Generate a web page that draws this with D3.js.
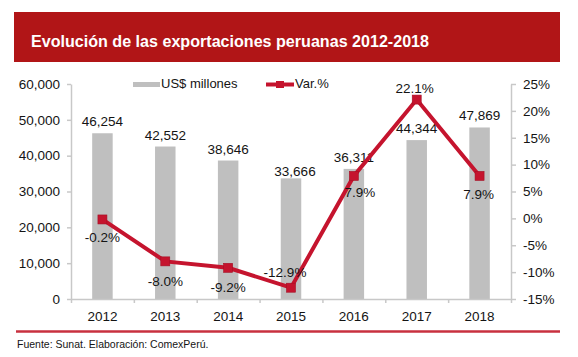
<!DOCTYPE html>
<html>
<head>
<meta charset="utf-8">
<script src="https://cdn.jsdelivr.net/npm/d3@7"></script>
<style>
  html, body { margin: 0; padding: 0; background: #fff; }
  svg { display: block; font-family: "Liberation Sans", Arial, sans-serif; }
</style>
</head>
<body>
<svg id="chart" width="578" height="357"></svg>
<script>
const years = ["2012", "2013", "2014", "2015", "2016", "2017", "2018"];
const exports = [46254, 42552, 38646, 33666, 36311, 44344, 47869];
const variation = [-0.2, -8.0, -9.2, -12.9, 7.9, 22.1, 7.9];
const leftTicks = [0, 10000, 20000, 30000, 40000, 50000, 60000];
const rightTicks = [-15, -10, -5, 0, 5, 10, 15, 20, 25];
const title = "Evolución de las exportaciones peruanas 2012-2018";
const source = "Fuente: Sunat. Elaboración: ComexPerú.";
const seriesNames = ["US$ millones", "Var.%"];

const svg = d3.select("#chart");
const W = 578, H = 357;
const plot = { left: 71, right: 511, top: 84, bottom: 299 };

const RED_BAND = "#b11517";
const LINE_RED = "#c5142e";
const BAR_GRAY = "#bfbfbf";
const AXIS_GRAY = "#c8c8c8";
const TEXT = "#141414";

// Header band
svg.append("rect").attr("x", 14).attr("y", 12).attr("width", 546).attr("height", 50).attr("fill", RED_BAND);
svg.append("text")
  .attr("x", 31).attr("y", 47)
  .attr("fill", "#fff").attr("font-weight", "bold").attr("font-size", 17)
  .attr("textLength", 398).attr("lengthAdjust", "spacingAndGlyphs")
  .text(title);

// Scales
const x = d3.scaleBand().domain(years).range([plot.left, plot.right]).paddingInner(0.674).paddingOuter(0.337);
const xEdge = d3.scaleLinear().domain([0, years.length]).range([plot.left, plot.right]);
const yL = d3.scaleLinear().domain([0, 60000]).range([plot.bottom, plot.top]);
const yR = d3.scaleLinear().domain([-15, 25]).range([plot.bottom, plot.top]);

function styleAxis(g) {
  g.select(".domain").attr("stroke", AXIS_GRAY).attr("stroke-width", 1.5);
  g.selectAll(".tick line").attr("stroke", AXIS_GRAY).attr("stroke-width", 1.5);
  g.selectAll(".tick text").attr("fill", TEXT).attr("font-size", 13.5)
    .attr("font-family", "'Liberation Sans', Arial, sans-serif");
}

// Left axis
svg.append("g").attr("transform", `translate(${plot.left},0)`)
  .call(d3.axisLeft(yL).tickValues(leftTicks).tickSize(4).tickPadding(7).tickSizeOuter(0).tickFormat(d3.format(",")))
  .call(styleAxis);

// Right axis
svg.append("g").attr("transform", `translate(${plot.right},0)`)
  .call(d3.axisRight(yR).tickValues(rightTicks).tickSize(5).tickPadding(7).tickSizeOuter(0).tickFormat(d => d + "%"))
  .call(styleAxis);

// Bars
svg.append("g").selectAll("rect").data(exports).join("rect")
  .attr("x", (d, i) => x(years[i]))
  .attr("y", d => yL(d))
  .attr("width", x.bandwidth())
  .attr("height", d => yL(0) - yL(d))
  .attr("fill", BAR_GRAY);

// X axis tick marks at category boundaries
svg.append("g").attr("transform", `translate(0,${plot.bottom})`)
  .call(d3.axisBottom(xEdge).tickValues(d3.range(0, years.length + 1)).tickSize(4).tickSizeOuter(0).tickFormat(""))
  .call(styleAxis);
// X labels
svg.append("g").attr("transform", `translate(0,${plot.bottom})`)
  .call(d3.axisBottom(x).tickSize(0).tickPadding(12))
  .call(g => g.select(".domain").remove())
  .call(styleAxis);

// Bar value labels
const barLabelAdj = { "2015": { dx: 4, dy: 5 } };
svg.append("g").selectAll("text").data(exports).join("text")
  .attr("x", (d, i) => x(years[i]) + x.bandwidth() / 2 + ((barLabelAdj[years[i]] || {}).dx || 0))
  .attr("y", (d, i) => yL(d) - 7 + ((barLabelAdj[years[i]] || {}).dy || 0))
  .attr("text-anchor", "middle").attr("font-size", 13.5).attr("fill", TEXT)
  .text(d => d3.format(",")(d));

// Line
const cx = (i) => x(years[i]) + x.bandwidth() / 2;
const line = d3.line().x((d, i) => cx(i)).y(d => yR(d));
svg.append("path").datum(variation)
  .attr("d", line).attr("fill", "none").attr("stroke", LINE_RED).attr("stroke-width", 4)
  .attr("stroke-linejoin", "miter");
svg.append("g").selectAll("rect").data(variation).join("rect")
  .attr("x", (d, i) => cx(i) - 4.5).attr("y", d => yR(d) - 4.5)
  .attr("width", 9).attr("height", 9)
  .attr("fill", LINE_RED).attr("stroke", "#a50f25").attr("stroke-width", 0.6);

// Line labels
const lineLabelAdj = {
  "2012": { dx: 0, dy: 23 },
  "2013": { dx: 0, dy: 24.5 },
  "2014": { dx: 0, dy: 24 },
  "2015": { dx: -6, dy: -10.5 },
  "2016": { dx: 6, dy: 21.5 },
  "2017": { dx: -2, dy: -6.5 },
  "2018": { dx: -1, dy: 23 }
};
svg.append("g").selectAll("text").data(variation).join("text")
  .attr("x", (d, i) => cx(i) + lineLabelAdj[years[i]].dx)
  .attr("y", (d, i) => yR(d) + lineLabelAdj[years[i]].dy)
  .attr("text-anchor", "middle").attr("font-size", 13.5).attr("fill", TEXT)
  .text(d => d.toFixed(1) + "%");

// Legend
const lg = svg.append("g");
lg.append("rect").attr("x", 133).attr("y", 82).attr("width", 27).attr("height", 5).attr("fill", BAR_GRAY);
lg.append("text").attr("x", 161).attr("y", 88).attr("font-size", 13).attr("fill", TEXT).text(seriesNames[0]);
lg.append("line").attr("x1", 266).attr("x2", 294).attr("y1", 84.5).attr("y2", 84.5)
  .attr("stroke", LINE_RED).attr("stroke-width", 4);
lg.append("rect").attr("x", 276).attr("y", 81).attr("width", 8).attr("height", 7).attr("fill", LINE_RED);
lg.append("text").attr("x", 295).attr("y", 88).attr("font-size", 13).attr("fill", TEXT).text(seriesNames[1]);

// Footer
svg.append("line").attr("x1", 16).attr("x2", 560).attr("y1", 331.5).attr("y2", 331.5)
  .attr("stroke", "#c8303f").attr("stroke-width", 2.5);
svg.append("text").attr("x", 17).attr("y", 348).attr("font-size", 10.5).attr("fill", TEXT).text(source);
</script>
</body>
</html>
